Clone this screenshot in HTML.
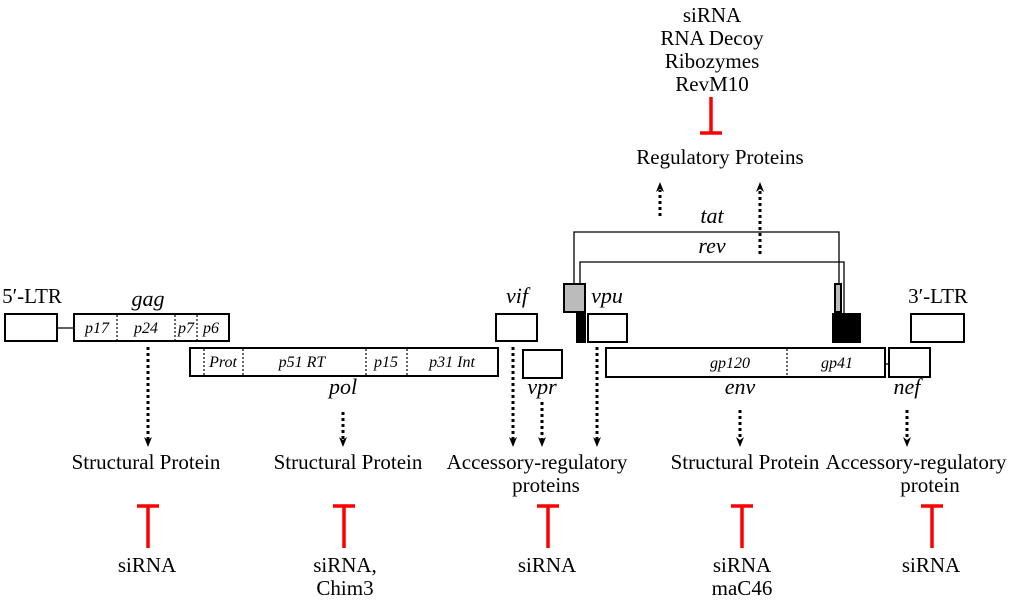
<!DOCTYPE html>
<html><head><meta charset="utf-8"><style>
html,body{margin:0;padding:0;background:#fff}
svg{display:block}
text{font-family:"Liberation Serif",serif;fill:#000}
.t{font-size:21px}
.i{font-size:22px;font-style:italic}
.s{font-size:16px;font-style:italic}
</style></head><body>
<svg width="1024" height="602" viewBox="0 0 1024 602" xmlns="http://www.w3.org/2000/svg">
<g text-anchor="middle" class="t">
<text x="712" y="22">siRNA</text>
<text x="712" y="45">RNA Decoy</text>
<text x="712" y="68">Ribozymes</text>
<text x="712" y="91">RevM10</text>
<text x="720" y="164">Regulatory Proteins</text>
</g>
<g stroke="#f00" stroke-width="3.5" fill="none">
<line x1="711" y1="97" x2="711" y2="133"/><line x1="700" y1="133" x2="722" y2="133"/>
</g>
<!-- up arrows -->
<g stroke="#000" stroke-width="3" stroke-dasharray="3,3" fill="none">
<line x1="660" y1="216" x2="660" y2="190"/>
<line x1="760" y1="254" x2="760" y2="190"/>
</g>
<g fill="#000">
<path d="M656,192 L660,182 L664,192 L660,189Z"/>
<path d="M756,192 L760,182 L764,192 L760,189Z"/>
</g>
<!-- tat / rev lines -->
<g stroke="#000" stroke-width="1.3" fill="none">
<polyline points="574,287 574,232 839,232 839,287"/>
<polyline points="580,287 580,262 844,262 844,318"/>
<line x1="57" y1="328" x2="74" y2="328"/>
<line x1="885" y1="364" x2="889" y2="364"/>
</g>
<text class="i" x="712" y="223" text-anchor="middle">tat</text>
<text class="i" x="712" y="253" text-anchor="middle">rev</text>
<!-- boxes -->
<g stroke="#000" stroke-width="2" fill="#fff">
<rect x="5" y="314" width="52" height="27"/>
<rect x="74" y="314" width="155" height="27"/>
<rect x="190" y="348" width="308" height="28"/>
<rect x="496" y="314" width="41" height="27"/>
<rect x="523" y="350" width="39" height="28"/>
<rect x="588" y="314" width="39" height="28"/>
<rect x="606" y="348" width="279" height="29"/>
<rect x="889" y="348" width="41" height="29"/>
<rect x="911" y="314" width="53" height="28"/>
<rect x="564" y="284" width="21" height="28" fill="#bbb"/>
<rect x="835" y="284" width="6" height="28" fill="#bbb"/>
<rect x="577" y="314" width="8" height="28" fill="#000"/>
<rect x="833" y="314" width="27" height="28" fill="#000"/>
</g>
<g stroke="#000" stroke-width="1.2" stroke-dasharray="2,2">
<line x1="117" y1="315" x2="117" y2="340"/>
<line x1="175" y1="315" x2="175" y2="340"/>
<line x1="197" y1="315" x2="197" y2="340"/>
<line x1="204" y1="349" x2="204" y2="375"/>
<line x1="243" y1="349" x2="243" y2="375"/>
<line x1="366" y1="349" x2="366" y2="375"/>
<line x1="407" y1="349" x2="407" y2="375"/>
<line x1="787" y1="349" x2="787" y2="376"/>
</g>
<g class="s" text-anchor="middle">
<text x="97" y="333">p17</text>
<text x="146" y="333">p24</text>
<text x="186" y="333">p7</text>
<text x="211" y="333">p6</text>
<text x="223" y="367">Prot</text>
<text x="302" y="367">p51 RT</text>
<text x="386" y="367">p15</text>
<text x="452" y="367">p31 Int</text>
<text x="730" y="368">gp120</text>
<text x="837" y="368">gp41</text>
</g>
<g text-anchor="middle">
<text class="t" x="32" y="303">5′-LTR</text>
<text class="i" x="148" y="306">gag</text>
<text class="i" x="517" y="303">vif</text>
<text class="i" x="607" y="303">vpu</text>
<text class="t" x="938" y="303">3′-LTR</text>
<text class="i" x="343" y="394">pol</text>
<text class="i" x="542" y="394">vpr</text>
<text class="i" x="740" y="394">env</text>
<text class="i" x="907" y="394">nef</text>
</g>
<!-- down arrows -->
<g stroke="#000" stroke-width="3" stroke-dasharray="3,3" fill="none">
<line x1="148" y1="347" x2="148" y2="440"/>
<line x1="343" y1="412" x2="343" y2="440"/>
<line x1="513" y1="347" x2="513" y2="440"/>
<line x1="542" y1="402" x2="542" y2="440"/>
<line x1="597" y1="347" x2="597" y2="440"/>
<line x1="740" y1="410" x2="740" y2="440"/>
<line x1="907" y1="410" x2="907" y2="440"/>
</g>
<g fill="#000">
<path d="M144,437 L148,447 L152,437 L148,440Z"/>
<path d="M339,437 L343,447 L347,437 L343,440Z"/>
<path d="M509,437 L513,447 L517,437 L513,440Z"/>
<path d="M538,437 L542,447 L546,437 L542,440Z"/>
<path d="M593,437 L597,447 L601,437 L597,440Z"/>
<path d="M736,437 L740,447 L744,437 L740,440Z"/>
<path d="M903,437 L907,447 L911,437 L907,440Z"/>
</g>
<g class="t" text-anchor="middle">
<text x="146" y="469">Structural Protein</text>
<text x="348" y="469">Structural Protein</text>
<text x="537" y="469">Accessory-regulatory</text>
<text x="546" y="492">proteins</text>
<text x="745" y="469">Structural Protein</text>
<text x="916" y="469">Accessory-regulatory</text>
<text x="930" y="492">protein</text>
<text x="147" y="572">siRNA</text>
<text x="345" y="572">siRNA,</text>
<text x="345" y="595">Chim3</text>
<text x="547" y="572">siRNA</text>
<text x="742" y="572">siRNA</text>
<text x="742" y="595">maC46</text>
<text x="931" y="572">siRNA</text>
</g>
<g stroke="#f00" stroke-width="3.5" fill="none">
<line x1="137" y1="506" x2="159" y2="506"/><line x1="148" y1="506" x2="148" y2="548"/>
<line x1="333" y1="506" x2="355" y2="506"/><line x1="344" y1="506" x2="344" y2="548"/>
<line x1="537" y1="506" x2="559" y2="506"/><line x1="548" y1="506" x2="548" y2="548"/>
<line x1="731" y1="506" x2="753" y2="506"/><line x1="742" y1="506" x2="742" y2="548"/>
<line x1="921" y1="506" x2="943" y2="506"/><line x1="932" y1="506" x2="932" y2="548"/>
</g>
</svg>
</body></html>
